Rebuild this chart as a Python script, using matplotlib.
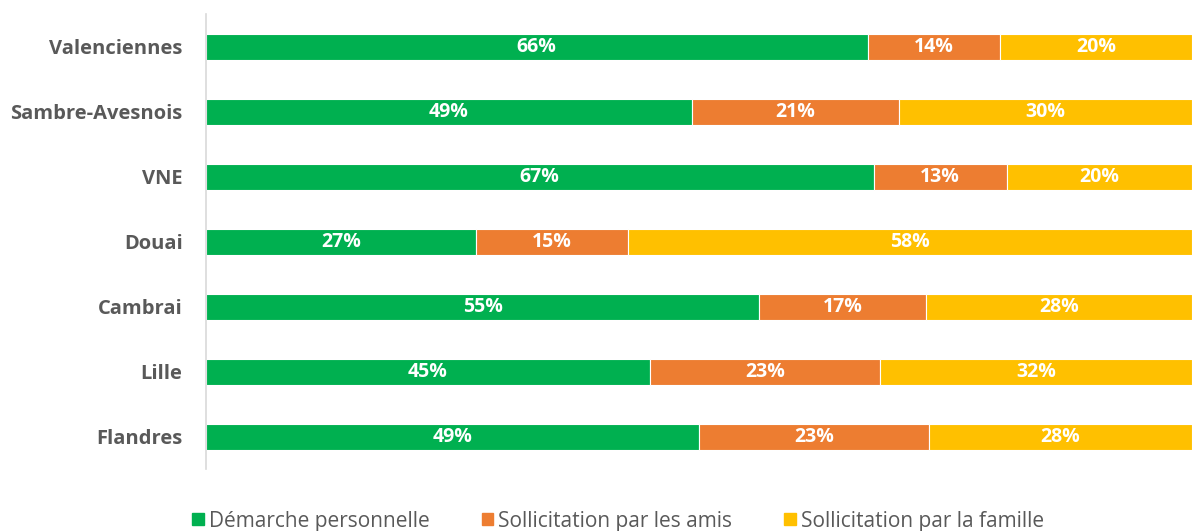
import numpy as np
from matplotlib import pyplot as plt
from matplotlib.patches import Patch

plt.rcParams['font.family'] = ['Open Sans', 'DejaVu Sans']

# Territoires (de haut en bas)
territoires = ['Valenciennes', 'Sambre-Avesnois', 'VNE', 'Douai', 'Cambrai', 'Lille', 'Flandres']

# Parts (en %)
demarche = [67.1, 49.3, 67.7, 27.4, 56.1, 45.0, 50.0]
amis = [13.4, 21.0, 13.5, 15.4, 16.9, 23.4, 23.3]
famille = [19.5, 29.7, 18.8, 57.2, 27.0, 31.6, 26.7]

# Etiquettes affichées sur les barres
lab_demarche = ['66%', '49%', '67%', '27%', '55%', '45%', '49%']
lab_amis = ['14%', '21%', '13%', '15%', '17%', '23%', '23%']
lab_famille = ['20%', '30%', '20%', '58%', '28%', '32%', '28%']

series = ['Démarche personnelle', 'Sollicitation par les amis', 'Sollicitation par la famille']
couleurs = ['#00b050', '#ed7d31', '#ffc000']

fig = plt.figure(figsize=(11.92, 5.31), dpi=100)
ax = fig.add_axes([206 / 1192, 62 / 531, 986 / 1192, 455 / 531])

y = np.arange(len(territoires))
left = np.zeros(len(territoires))
for vals, labs, col in zip([demarche, amis, famille],
                           [lab_demarche, lab_amis, lab_famille], couleurs):
    vals = np.array(vals)
    ax.barh(y, vals, left=left, height=0.4, color=col, edgecolor='white', linewidth=0.8)
    for yi, l, v, t in zip(y, left, vals, labs):
        ax.text(l + v / 2, yi, t, ha='center', va='center', color='white',
                fontsize=14, fontweight='bold')
    left += vals

ax.set_xlim(0, 100)
ax.set_ylim(len(territoires) - 0.5, -0.5)
ax.set_yticks(y)
ax.set_yticklabels(territoires, fontsize=14.5, fontweight='bold', color='#595959')
ax.tick_params(axis='y', length=0, pad=17)
ax.set_xticks([])
for s in ['top', 'right', 'bottom']:
    ax.spines[s].set_visible(False)
ax.spines['left'].set_color('#d9d9d9')
ax.spines['left'].set_linewidth(1.2)

handles = [Patch(color=c, label=s) for c, s in zip(couleurs, series)]
leg = fig.legend(handles=handles, loc='center', bbox_to_anchor=(0.5186, 10 / 531), ncol=3,
                 frameon=False, fontsize=15, labelcolor='#595959',
                 handlelength=0.55, handleheight=0.55, handletextpad=0.25, columnspacing=2.5)

fig.savefig('out.png', dpi=100)
